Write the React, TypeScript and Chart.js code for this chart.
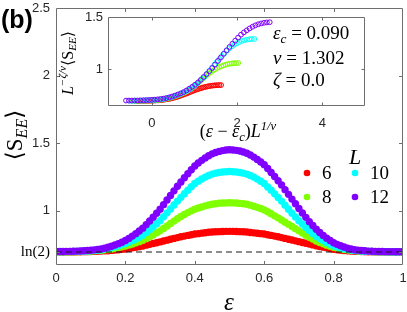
import React, { useEffect, useRef } from "react";
import { Chart, registerables } from "chart.js";
Chart.register(...registerables);

// ---------- data ----------
const EPS = [
  0, 0.01, 0.02, 0.03, 0.04, 0.05, 0.06, 0.07, 0.08, 0.09,
  0.1, 0.11, 0.12, 0.13, 0.14, 0.15, 0.16, 0.17, 0.18, 0.19,
  0.2, 0.21, 0.22, 0.23, 0.24, 0.25, 0.26, 0.27, 0.28, 0.29,
  0.3, 0.31, 0.32, 0.33, 0.34, 0.35, 0.36, 0.37, 0.38, 0.39,
  0.4, 0.41, 0.42, 0.43, 0.44, 0.45, 0.46, 0.47, 0.48, 0.49,
  0.5, 0.51, 0.52, 0.53, 0.54, 0.55, 0.56, 0.57, 0.58, 0.59,
  0.6, 0.61, 0.62, 0.63, 0.64, 0.65, 0.66, 0.67, 0.68, 0.69,
  0.7, 0.71, 0.72, 0.73, 0.74, 0.75, 0.76, 0.77, 0.78, 0.79,
  0.8, 0.81, 0.82, 0.83, 0.84, 0.85, 0.86, 0.87, 0.88, 0.89,
  0.9, 0.91, 0.92, 0.93, 0.94, 0.95, 0.96, 0.97, 0.98, 0.99, 1,
];

const S_L6 = [
  0.693, 0.693, 0.693, 0.694, 0.694, 0.694, 0.695, 0.695, 0.696, 0.696,
  0.697, 0.698, 0.699, 0.700, 0.702, 0.703, 0.705, 0.708, 0.710, 0.713,
  0.716, 0.720, 0.724, 0.728, 0.733, 0.738, 0.744, 0.750, 0.756, 0.762,
  0.768, 0.775, 0.781, 0.788, 0.794, 0.800, 0.806, 0.811, 0.816, 0.821,
  0.826, 0.829, 0.833, 0.836, 0.839, 0.841, 0.843, 0.844, 0.845, 0.846,
  0.846, 0.846, 0.845, 0.844, 0.843, 0.841, 0.838, 0.835, 0.832, 0.829,
  0.826, 0.821, 0.816, 0.811, 0.806, 0.800, 0.794, 0.788, 0.782, 0.776,
  0.770, 0.764, 0.758, 0.752, 0.746, 0.740, 0.734, 0.729, 0.724, 0.719,
  0.714, 0.710, 0.707, 0.704, 0.702, 0.700, 0.699, 0.698, 0.697, 0.696,
  0.695, 0.695, 0.694, 0.694, 0.694, 0.694, 0.693, 0.693, 0.693, 0.693, 0.693,
];

const S_L8 = [
  0.694, 0.694, 0.695, 0.695, 0.695, 0.696, 0.696, 0.697, 0.698, 0.699,
  0.700, 0.702, 0.704, 0.706, 0.709, 0.712, 0.716, 0.721, 0.726, 0.732,
  0.738, 0.745, 0.753, 0.761, 0.770, 0.780, 0.792, 0.806, 0.820, 0.835,
  0.850, 0.868, 0.886, 0.904, 0.922, 0.940, 0.956, 0.971, 0.985, 0.998,
  1.010, 1.019, 1.027, 1.035, 1.041, 1.047, 1.051, 1.054, 1.056, 1.057,
  1.058, 1.057, 1.056, 1.053, 1.050, 1.047, 1.040, 1.032, 1.024, 1.015,
  1.005, 0.991, 0.976, 0.961, 0.946, 0.930, 0.914, 0.898, 0.882, 0.866,
  0.850, 0.834, 0.818, 0.803, 0.789, 0.775, 0.764, 0.754, 0.744, 0.736,
  0.728, 0.722, 0.717, 0.712, 0.709, 0.706, 0.704, 0.702, 0.700, 0.699,
  0.698, 0.697, 0.696, 0.696, 0.695, 0.695, 0.695, 0.694, 0.694, 0.694, 0.694,
];

const S_L10 = [
  0.695, 0.695, 0.696, 0.696, 0.697, 0.697, 0.698, 0.699, 0.700, 0.701,
  0.703, 0.705, 0.707, 0.710, 0.715, 0.720, 0.726, 0.732, 0.740, 0.748,
  0.757, 0.767, 0.778, 0.790, 0.803, 0.818, 0.837, 0.858, 0.880, 0.902,
  0.925, 0.954, 0.983, 1.012, 1.041, 1.070, 1.098, 1.125, 1.151, 1.176,
  1.200, 1.218, 1.234, 1.248, 1.260, 1.270, 1.277, 1.282, 1.286, 1.288,
  1.289, 1.288, 1.286, 1.282, 1.277, 1.270, 1.260, 1.248, 1.233, 1.217,
  1.200, 1.175, 1.150, 1.124, 1.097, 1.070, 1.040, 1.010, 0.981, 0.953,
  0.925, 0.900, 0.875, 0.852, 0.830, 0.810, 0.793, 0.778, 0.764, 0.751,
  0.740, 0.731, 0.724, 0.717, 0.712, 0.708, 0.705, 0.703, 0.701, 0.699,
  0.698, 0.697, 0.696, 0.696, 0.695, 0.695, 0.695, 0.694, 0.694, 0.694, 0.694,
];

const S_L12 = [
  0.697, 0.697, 0.697, 0.698, 0.698, 0.699, 0.700, 0.701, 0.702, 0.704,
  0.706, 0.709, 0.712, 0.716, 0.721, 0.728, 0.736, 0.745, 0.755, 0.766,
  0.778, 0.794, 0.811, 0.829, 0.849, 0.870, 0.896, 0.923, 0.951, 0.980,
  1.010, 1.044, 1.078, 1.112, 1.146, 1.180, 1.212, 1.243, 1.273, 1.302,
  1.330, 1.352, 1.372, 1.390, 1.406, 1.420, 1.430, 1.438, 1.444, 1.448,
  1.450, 1.449, 1.446, 1.441, 1.434, 1.425, 1.412, 1.396, 1.378, 1.360,
  1.340, 1.312, 1.282, 1.252, 1.221, 1.190, 1.155, 1.120, 1.085, 1.050,
  1.015, 0.982, 0.950, 0.918, 0.889, 0.862, 0.838, 0.816, 0.796, 0.778,
  0.762, 0.750, 0.739, 0.730, 0.722, 0.715, 0.710, 0.707, 0.704, 0.702,
  0.700, 0.699, 0.698, 0.697, 0.697, 0.696, 0.696, 0.696, 0.695, 0.695, 0.695,
];

const L_VALUES = [6, 8, 10, 12];
const SERIES = [S_L6, S_L8, S_L10, S_L12];
const COLORS = ["#ff0000", "#80ff00", "#00ffff", "#8000ff"];

const LN2 = Math.log(2);
const X_TICKS = [0, 0.2, 0.4, 0.6, 0.8, 1];
const X_TICK_LABELS = ["0", "0.2", "0.4", "0.6", "0.8", "1"];
const Y_TICKS = [LN2, 1, 1.5, 2, 2.5];
const Y_TICK_LABELS = ["ln(2)", "1", "1.5", "2", "2.5"];

// inset (finite-size scaling collapse)
const EPS_C = 0.09;
const NU = 1.302;
const ZETA = 0.0;
const INSET_EPS_MAX = 0.5;
const INSET_X_TICKS = [0, 2, 4];
const INSET_X_TICK_LABELS = ["0", "2", "4"];
const INSET_Y_TICKS = [1, 1.5];
const INSET_Y_TICK_LABELS = ["1", "1.5"];

// ---------- helpers ----------
const SERIF = "'Liberation Serif', 'DejaVu Serif', 'Times New Roman', serif";
const SANS = "'Liberation Sans', Arial, Helvetica, sans-serif";
const AXIS_COLOR = "#6e6e6e";
const TEXT_COLOR = "#262626";

type Seg = { t: string; i?: boolean; s?: "sub" | "sup" };

function segFont(seg: Seg, size: number) {
  const sz = seg.s ? size * 0.7 : size;
  return `${seg.i ? "italic " : ""}${sz}px ${SERIF}`;
}
function richWidth(ctx: CanvasRenderingContext2D, segs: Seg[], size: number) {
  let w = 0;
  for (const s of segs) {
    ctx.font = segFont(s, size);
    w += ctx.measureText(s.t).width;
  }
  return w;
}
function drawRich(
  ctx: CanvasRenderingContext2D,
  segs: Seg[],
  x: number,
  y: number,
  size: number,
  align: "left" | "center" | "right"
) {
  const w = richWidth(ctx, segs, size);
  let cx = align === "center" ? x - w / 2 : align === "right" ? x - w : x;
  ctx.textAlign = "left";
  ctx.textBaseline = "alphabetic";
  for (const s of segs) {
    ctx.font = segFont(s, size);
    const dy = s.s === "sub" ? size * 0.22 : s.s === "sup" ? -size * 0.4 : 0;
    ctx.fillText(s.t, cx, y + dy);
    cx += ctx.measureText(s.t).width;
  }
}

function drawFrame(chart: any, xticks: number[], yticks: number[], tl: number) {
  const ctx: CanvasRenderingContext2D = chart.ctx;
  const a = chart.chartArea;
  const xs = chart.scales.x;
  const ys = chart.scales.y;
  const L = Math.round(a.left) + 0.5;
  const R = Math.round(a.right) - 0.5;
  const T = Math.round(a.top) + 0.5;
  const B = Math.round(a.bottom) - 0.5;
  ctx.save();
  ctx.strokeStyle = AXIS_COLOR;
  ctx.lineWidth = 1;
  ctx.beginPath();
  ctx.rect(L, T, R - L, B - T);
  for (const v of xticks) {
    const px = Math.round(xs.getPixelForValue(v)) + 0.5;
    if (px <= L + 1 || px >= R - 1) continue;
    ctx.moveTo(px, B);
    ctx.lineTo(px, B - tl);
    ctx.moveTo(px, T);
    ctx.lineTo(px, T + tl);
  }
  for (const v of yticks) {
    const py = Math.round(ys.getPixelForValue(v)) + 0.5;
    if (py <= T + 1 || py >= B - 1) continue;
    ctx.moveTo(L, py);
    ctx.lineTo(L + tl, py);
    ctx.moveTo(R, py);
    ctx.lineTo(R - tl, py);
  }
  ctx.stroke();
  ctx.restore();
}

const mainPlugin = {
  id: "mainDecor",
  afterDraw(chart: any) {
    const ctx: CanvasRenderingContext2D = chart.ctx;
    drawFrame(chart, X_TICKS, Y_TICKS, 3.5);
    ctx.save();
    ctx.fillStyle = "#000";
    // (b)
    ctx.font = `bold 25px ${SANS}`;
    ctx.textAlign = "left";
    ctx.textBaseline = "middle";
    ctx.fillText("(b)", 1, 21);
    // x label
    drawRich(ctx, [{ t: "ε", i: true }], 229, 310, 25, "center");
    // y label
    ctx.save();
    ctx.translate(14, 135);
    ctx.rotate(-Math.PI / 2);
    drawRich(
      ctx,
      [{ t: "⟨" }, { t: "S" }, { t: "EE", i: true, s: "sub" }, { t: "⟩" }],
      0,
      0.33 * 23,
      23,
      "center"
    );
    ctx.restore();
    // legend
    drawRich(ctx, [{ t: "L", i: true }], 355, 164, 22, "center");
    const pos = [
      [307, 173],
      [307, 197],
      [355, 173],
      [355, 197],
    ];
    L_VALUES.forEach((l, k) => {
      const [px, py] = pos[k];
      ctx.fillStyle = COLORS[k];
      ctx.beginPath();
      ctx.arc(px, py, 3.3, 0, Math.PI * 2);
      ctx.fill();
      ctx.fillStyle = "#000";
      drawRich(ctx, [{ t: String(l) }], px + 15, py + 6.3, 19, "left");
    });
    ctx.restore();
  },
};

const insetPlugin = {
  id: "insetDecor",
  beforeDatasetsDraw(chart: any) {
    const ctx: CanvasRenderingContext2D = chart.ctx;
    const a = chart.chartArea;
    ctx.save();
    ctx.fillStyle = "#ffffff";
    ctx.fillRect(a.left, a.top, a.right - a.left, a.bottom - a.top);
    ctx.restore();
  },
  afterDraw(chart: any) {
    const ctx: CanvasRenderingContext2D = chart.ctx;
    drawFrame(chart, INSET_X_TICKS, INSET_Y_TICKS, 3);
    ctx.save();
    ctx.fillStyle = "#000";
    // x label
    drawRich(
      ctx,
      [
        { t: "(" },
        { t: "ε", i: true },
        { t: " − " },
        { t: "ε", i: true },
        { t: "c", i: true, s: "sub" },
        { t: ")" },
        { t: "L", i: true },
        { t: "1/ν", i: true, s: "sup" },
      ],
      238,
      137,
      18,
      "center"
    );
    // y label
    ctx.save();
    ctx.translate(68, 63);
    ctx.rotate(-Math.PI / 2);
    drawRich(
      ctx,
      [
        { t: "L", i: true },
        { t: "−ζ/ν", i: true, s: "sup" },
        { t: "⟨" },
        { t: "S" },
        { t: "EE", i: true, s: "sub" },
        { t: "⟩" },
      ],
      0,
      0.3 * 16,
      16,
      "center"
    );
    ctx.restore();
    // parameters
    drawRich(
      ctx,
      [{ t: "ε", i: true }, { t: "c", i: true, s: "sub" }, { t: " = " + EPS_C.toFixed(3) }],
      273,
      39,
      19,
      "left"
    );
    drawRich(ctx, [{ t: "ν", i: true }, { t: " = " + NU.toFixed(3) }], 273, 64, 19, "left");
    drawRich(ctx, [{ t: "ζ", i: true }, { t: " = " + ZETA.toFixed(1) }], 273, 86, 19, "left");
    ctx.restore();
  },
};

function fixedTicks(values: number[]) {
  return (s: any) => {
    s.ticks = values.map((v) => ({ value: v }));
  };
}

export default function App() {
  const mainRef = useRef<HTMLCanvasElement>(null);
  const insetRef = useRef<HTMLCanvasElement>(null);

  useEffect(() => {
    const mainCanvas = mainRef.current!;
    const insetCanvas = insetRef.current!;
    const n = SERIES.length;

    const mainDatasets: any[] = SERIES.map((ser, k) => ({
      label: String(L_VALUES[k]),
      data: EPS.map((e, i) => ({ x: e, y: ser[i] })),
      backgroundColor: COLORS[k],
      borderColor: COLORS[k],
      borderWidth: 0,
      pointRadius: 3.7,
      pointHoverRadius: 3.7,
      pointStyle: "circle",
      order: n - k + 1,
      clip: 0,
    }));
    mainDatasets.push({
      label: "ln2",
      data: [
        { x: 0, y: LN2 },
        { x: 1, y: LN2 },
      ],
      showLine: true,
      borderColor: "#1a1a1a",
      borderWidth: 1,
      borderDash: [6, 4],
      pointRadius: 0,
      order: 0,
      clip: 0,
    });

    const main = new Chart(mainCanvas, {
      type: "scatter",
      data: { datasets: mainDatasets },
      options: {
        animation: false,
        responsive: false,
        events: [],
        layout: { padding: { top: 8, right: 4, left: 0, bottom: 0 } },
        plugins: { legend: { display: false }, tooltip: { enabled: false } },
        scales: {
          x: {
            type: "linear",
            min: 0,
            max: 1,
            afterBuildTicks: fixedTicks(X_TICKS),
            afterFit: (s: any) => {
              s.height = 47;
              s.paddingLeft = 0;
              s.paddingRight = 0;
            },
            ticks: {
              autoSkip: false,
              maxRotation: 0,
              padding: 6,
              color: TEXT_COLOR,
              font: { family: SANS, size: 13 },
              callback: (_v: any, i: number) => X_TICK_LABELS[i],
            },
            grid: { display: false, drawTicks: false },
            border: { display: false },
          },
          y: {
            type: "linear",
            min: 0.597,
            max: 2.5,
            afterBuildTicks: fixedTicks(Y_TICKS),
            afterFit: (s: any) => {
              s.width = 56;
              s.paddingTop = 0;
              s.paddingBottom = 0;
            },
            ticks: {
              autoSkip: false,
              padding: 6,
              color: (c: any) => (c.index === 0 ? "#000" : TEXT_COLOR),
              font: (c: any) =>
                c.index === 0 ? { family: SERIF, size: 15 } : { family: SANS, size: 13 },
              callback: (_v: any, i: number) => Y_TICK_LABELS[i],
            },
            grid: { display: false, drawTicks: false },
            border: { display: false },
          },
        },
      },
      plugins: [mainPlugin],
    });

    const insetDatasets: any[] = SERIES.map((ser, k) => {
      const L = L_VALUES[k];
      const pts: { x: number; y: number }[] = [];
      EPS.forEach((e, i) => {
        if (e <= INSET_EPS_MAX + 1e-9) {
          pts.push({
            x: (e - EPS_C) * Math.pow(L, 1 / NU),
            y: Math.pow(L, -ZETA / NU) * ser[i],
          });
        }
      });
      return {
        label: String(L),
        data: pts,
        backgroundColor: "rgba(0,0,0,0)",
        borderColor: COLORS[k],
        borderWidth: 1,
        pointRadius: 2.4,
        pointHoverRadius: 2.4,
        order: n - k + 1,
      };
    });

    const inset = new Chart(insetCanvas, {
      type: "scatter",
      data: { datasets: insetDatasets },
      options: {
        animation: false,
        responsive: false,
        events: [],
        layout: { padding: { top: 17, right: 42, left: 0, bottom: 0 } },
        plugins: { legend: { display: false }, tooltip: { enabled: false } },
        scales: {
          x: {
            type: "linear",
            min: -1.03,
            max: 5,
            afterBuildTicks: fixedTicks(INSET_X_TICKS),
            afterFit: (s: any) => {
              s.height = 206;
              s.paddingLeft = 0;
              s.paddingRight = 0;
            },
            ticks: {
              autoSkip: false,
              maxRotation: 0,
              padding: 10,
              color: TEXT_COLOR,
              font: { family: SANS, size: 13 },
              callback: (_v: any, i: number) => INSET_X_TICK_LABELS[i],
            },
            grid: { display: false, drawTicks: false },
            border: { display: false },
          },
          y: {
            type: "linear",
            min: 0.645,
            max: 1.5,
            afterBuildTicks: fixedTicks(INSET_Y_TICKS),
            afterFit: (s: any) => {
              s.width = 108;
              s.paddingTop = 0;
              s.paddingBottom = 0;
            },
            ticks: {
              autoSkip: false,
              padding: 5,
              color: TEXT_COLOR,
              font: { family: SANS, size: 13 },
              callback: (_v: any, i: number) => INSET_Y_TICK_LABELS[i],
            },
            grid: { display: false, drawTicks: false },
            border: { display: false },
          },
        },
      },
      plugins: [insetPlugin],
    });

    return () => {
      main.destroy();
      inset.destroy();
    };
  }, []);

  return (
    <div
      style={{
        position: "fixed",
        left: 0,
        top: 0,
        width: 407,
        height: 312,
        background: "#ffffff",
      }}
    >
      <canvas
        ref={mainRef}
        width={407}
        height={312}
        style={{ position: "absolute", left: 0, top: 0, width: 407, height: 312 }}
      />
      <canvas
        ref={insetRef}
        width={407}
        height={312}
        style={{ position: "absolute", left: 0, top: 0, width: 407, height: 312 }}
      />
    </div>
  );
}
